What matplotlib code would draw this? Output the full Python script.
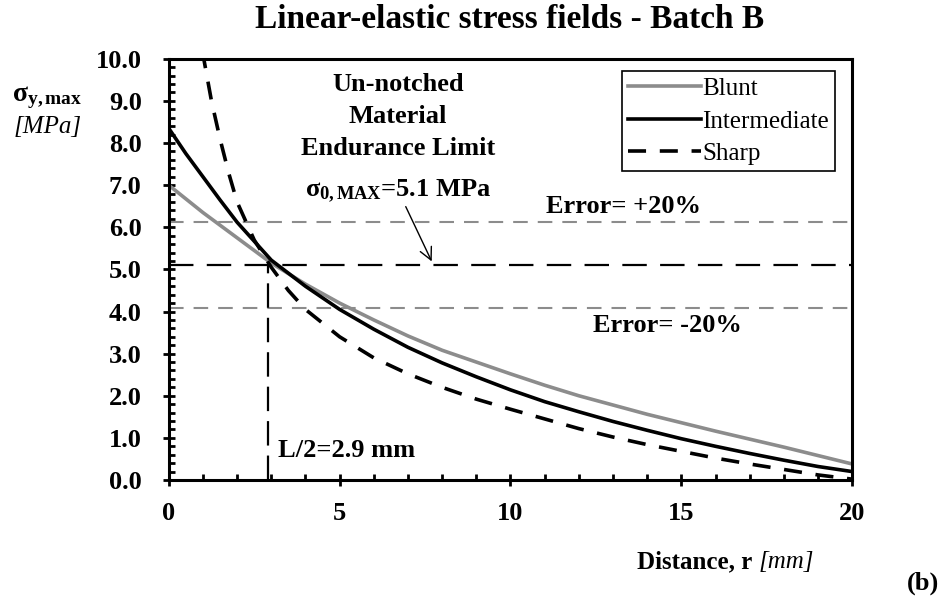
import matplotlib
matplotlib.use("Agg")
import matplotlib.pyplot as plt
from matplotlib.ticker import MultipleLocator, FormatStrFormatter

plt.rcParams['font.family'] = ['Liberation Serif', 'DejaVu Serif']
plt.rcParams['mathtext.fontset'] = 'custom'
plt.rcParams['mathtext.rm'] = 'Liberation Serif'
plt.rcParams['mathtext.bf'] = 'Liberation Serif:bold'
plt.rcParams['mathtext.it'] = 'Liberation Serif:italic'

# data (r in mm, sigma in MPa)
r_blunt = [0, 1, 2, 3, 4, 5, 6, 7, 8, 9, 10, 11, 12, 13, 14, 15, 16, 17, 18, 19, 20]
s_blunt = [7.0, 6.35, 5.75, 5.15, 4.65, 4.2, 3.8, 3.42, 3.08, 2.8, 2.52, 2.25, 2.0,
           1.78, 1.56, 1.36, 1.16, 0.97, 0.78, 0.58, 0.38]

r_inter = [0, 0.5, 1, 1.5, 2, 3, 4, 5, 6, 7, 8, 9, 10, 11, 12, 13, 14, 15, 16, 17, 18, 19, 20]
s_inter = [8.35, 7.75, 7.2, 6.65, 6.12, 5.22, 4.6, 4.05, 3.58, 3.15, 2.78, 2.45, 2.14,
           1.86, 1.62, 1.39, 1.18, 0.98, 0.8, 0.63, 0.47, 0.32, 0.2]

r_sharp = [0.98, 1.25, 1.5, 1.75, 2.0, 2.5, 3.0, 3.5, 4, 5, 6, 7, 8, 9, 10, 11, 12, 13,
           14, 15, 16, 17, 18, 19, 20]
s_sharp = [10.2, 9.0, 8.1, 7.3, 6.6, 5.7, 5.05, 4.5, 4.05, 3.4, 2.9, 2.52, 2.2, 1.92,
           1.68, 1.45, 1.22, 1.02, 0.84, 0.68, 0.52, 0.38, 0.25, 0.12, 0.02]

sigma0 = 5.1
err_hi = 6.12
err_lo = 4.08
half_L = 2.9

gray = '#8c8c8c'

fig = plt.figure(figsize=(9.48, 6), dpi=100)
ax = fig.add_axes([0.178, 0.2, 0.721, 0.702])

ax.axhline(err_hi, color=gray, lw=1.5, dashes=(7, 4.8))
ax.axhline(err_lo, color=gray, lw=1.5, dashes=(7, 4.8))
ax.axhline(sigma0, color='black', lw=1.6, dashes=(11, 6))
ax.plot([half_L, half_L], [0, sigma0], color='black', lw=1.6, dashes=(11, 4.5))

ax.plot(r_blunt, s_blunt, color=gray, lw=2.6, label='Blunt')
ax.plot(r_inter, s_inter, color='black', lw=2.6, label='Intermediate')
ax.plot(r_sharp, s_sharp, color='black', lw=2.6, dashes=(5, 3.8), label='Sharp')

ax.set_xlim(0, 20)
ax.set_ylim(0, 10)
ax.xaxis.set_major_locator(MultipleLocator(5))
ax.xaxis.set_minor_locator(MultipleLocator(1))
ax.yaxis.set_major_locator(MultipleLocator(1))
ax.yaxis.set_minor_locator(MultipleLocator(0.2))
ax.yaxis.set_major_formatter(FormatStrFormatter('%.1f'))
ax.tick_params(which='major', direction='inout', length=9, width=2, labelsize=19)
ax.tick_params(which='minor', direction='in', length=4.5, width=2)
ax.tick_params(axis='x', which='major', pad=11)
ax.tick_params(axis='y', which='major', pad=15)
for lab in ax.get_xticklabels() + ax.get_yticklabels():
    lab.set_fontweight('bold')
for sp in ax.spines.values():
    sp.set_linewidth(2.2)

leg = ax.legend(loc='upper right', bbox_to_anchor=(0.975, 0.97), fontsize=18,
                handlelength=2.9, handletextpad=0.05, labelspacing=0.4,
                borderpad=0.25, borderaxespad=0, fancybox=False, framealpha=1,
                edgecolor='black')
leg.get_frame().set_linewidth(1.2)

ax.annotate('', xy=(7.73, 5.13), xytext=(6.9, 6.55),
            arrowprops=dict(arrowstyle='->', lw=1.0, color='black', mutation_scale=22))

tk = dict(ha='center', va='center', fontsize=19, fontweight='bold')
ax.text(6.7, 9.38, 'Un-notched', **tk)
ax.text(6.7, 8.62, 'Material', **tk)
ax.text(6.7, 7.88, 'Endurance Limit', **tk)
ax.text(6.7, 6.85, 'σ$_{\\mathbf{0,MAX}}$=5.1 MPa', **tk)

ax.text(13.3, 6.5, 'Error= +20%', **tk)
ax.text(14.6, 3.66, 'Error= -20%', **tk)
ax.text(3.2, 0.69, 'L/2=2.9 mm', ha='left', va='center', fontsize=19, fontweight='bold')

fig.text(0.538, 0.967, 'Linear-elastic stress fields - Batch B', ha='center', va='center',
         fontsize=24, fontweight='bold')
fig.text(0.05, 0.838, 'σ$_{\\mathbf{y,max}}$', ha='center', va='center', fontsize=20,
         fontweight='bold')
fig.text(0.05, 0.788, '[MPa]', ha='center', va='center', fontsize=18, style='italic')
fig.text(0.8, 0.063, 'Distance, r ', ha='right', va='center', fontsize=18, fontweight='bold')
fig.text(0.8, 0.063, '[mm]', ha='left', va='center', fontsize=18, style='italic')
fig.text(0.974, 0.028, '(b)', ha='center', va='center', fontsize=19, fontweight='bold')

fig.savefig('out.png', dpi=100)
